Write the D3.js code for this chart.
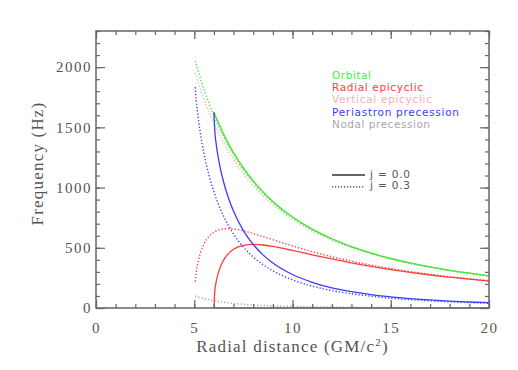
<!DOCTYPE html>
<html>
<head>
<meta charset="utf-8">
<script src="https://cdn.jsdelivr.net/npm/d3@7"></script>
<style>
  body { margin:0; background:#fff; }
  svg { display:block; }
  .axis text { font-family:"Liberation Serif", serif; font-size:15px; fill:#555; letter-spacing:1.5px; }
  .axis line { stroke:#666; stroke-width:1.2; }
  .axis .domain { display:none; }
</style>
</head>
<body>
<div id="chart"></div>
<script>
// radial distances (GM/c^2) for the two spins
const rJ0 = [6, 6.05, 6.1, 6.2, 6.35, 6.5, 6.75, 7, 7.5, 8, 8.5, 9, 10, 11, 12, 13, 14, 15, 16, 17, 18, 19, 20];
const rJ3 = [5.05, 5.1, 5.2, 5.35, 5.5, 5.75, 6, 6.5, 6.75, 7, 7.5, 8, 9, 10, 11, 12, 13, 14, 15, 16, 17, 18, 19, 20];

// j = 0.0 (Hz)
const orbitalJ0  = [1626, 1606, 1586, 1548, 1494, 1442, 1363, 1291, 1164, 1056, 964, 885, 756, 655, 575, 510, 456, 411, 373, 341, 313, 289, 267];
const radialJ0   = [0, 146, 203, 278, 351, 400, 454, 488, 520, 528, 523, 511, 478, 442, 407, 374, 345, 319, 295, 274, 256, 239, 224];
const verticalJ0 = [1626, 1606, 1586, 1548, 1494, 1442, 1363, 1291, 1164, 1056, 964, 885, 756, 655, 575, 510, 456, 411, 373, 341, 313, 289, 267];
const periJ0     = [1626, 1460, 1383, 1270, 1143, 1042, 909, 803, 643, 528, 441, 374, 278, 213, 168, 136, 111, 93, 78, 67, 57, 50, 44];
const nodalJ0    = [0, 0, 0, 0, 0, 0, 0, 0, 0, 0, 0, 0, 0, 0, 0, 0, 0, 0, 0, 0, 0, 0, 0];

// j = 0.3 (Hz)
const orbitalJ3  = [2052, 2022, 1966, 1886, 1811, 1697, 1594, 1417, 1340, 1270, 1147, 1042, 876, 749, 650, 571, 507, 454, 409, 372, 340, 312, 288, 266];
const radialJ3   = [218, 297, 386, 474, 532, 594, 629, 657, 659, 656, 641, 618, 567, 515, 468, 426, 389, 356, 328, 302, 280, 260, 243, 227];
const verticalJ3 = [1952, 1925, 1874, 1801, 1733, 1628, 1534, 1369, 1297, 1232, 1116, 1017, 857, 735, 640, 563, 501, 449, 405, 368, 337, 309, 286, 265];
const periJ3     = [1834, 1725, 1580, 1412, 1279, 1103, 965, 760, 681, 614, 506, 424, 309, 234, 182, 145, 118, 98, 81, 70, 60, 52, 45, 39];
const nodalJ3    = [100, 97, 92, 85, 78, 69, 60, 48, 43, 38, 31, 25, 18, 14, 10, 8, 6, 5, 4, 3, 3, 2, 2, 1];

const legendNames = ["Orbital", "Radial epicyclic", "Vertical epicyclic", "Periastron precession", "Nodal precession"];
const legendColors = ["#3cf03c", "#ff3c3c", "#ffaeae", "#3c3cff", "#a8a8a8"];
const spinLabels = ["j = 0.0", "j = 0.3"];
const xTicks = [0, 5, 10, 15, 20];
const yTicks = [0, 500, 1000, 1500, 2000];

let width = 518, height = 370,
    margin = { top:31, right:29, bottom:62, left:96 },
    innerWidth = width - margin.left - margin.right,
    innerHeight = height - margin.top - margin.bottom;

let xScale = d3.scaleLinear().domain([0, 20]).range([0, innerWidth]);
let yScale = d3.scaleLinear().domain([0, 2300]).range([innerHeight, 0]);

let svg = d3.select("#chart").append("svg").attr("width", width).attr("height", height);
let g = svg.append("g").attr("transform", `translate(${margin.left},${margin.top})`);

let line = d3.line()
    .x(d => xScale(d[0]))
    .y(d => yScale(d[1]))
    .curve(d3.curveMonotoneX);

let zip = (rs, vs) => rs.map((r, i) => [r, vs[i]]);

// draw order: vertical, nodal, orbital, radial, periastron
let series = [
  { r:rJ0, v:verticalJ0, c:2, dot:false },
  { r:rJ0, v:nodalJ0,    c:4, dot:false },
  { r:rJ3, v:verticalJ3, c:2, dot:true },
  { r:rJ3, v:nodalJ3,    c:4, dot:true },
  { r:rJ3, v:orbitalJ3,  c:0, dot:true },
  { r:rJ3, v:radialJ3,   c:1, dot:true },
  { r:rJ3, v:periJ3,     c:3, dot:true },
  { r:rJ0, v:orbitalJ0,  c:0, dot:false },
  { r:rJ0, v:radialJ0,   c:1, dot:false },
  { r:rJ0, v:periJ0,     c:3, dot:false }
];

g.selectAll("path.curve").data(series).enter().append("path")
  .attr("class", "curve")
  .attr("d", d => line(zip(d.r, d.v)))
  .attr("fill", "none")
  .attr("stroke", d => legendColors[d.c])
  .attr("stroke-width", d => d.dot ? 1.4 : 1.3)
  .attr("stroke-dasharray", d => d.dot ? "1.3 2" : null);

// axes: ticks point inward on all four sides
let xMinor = d3.range(0, 21, 1), yMinor = d3.range(0, 2301, 100);
let noText = sel => sel.selectAll("text").remove();

g.append("g").attr("class", "axis").attr("transform", `translate(0,${innerHeight})`)
  .call(d3.axisBottom(xScale).tickValues(xMinor).tickSize(-4)).call(noText);
g.append("g").attr("class", "axis").attr("transform", `translate(0,${innerHeight})`)
  .call(d3.axisBottom(xScale).tickValues(xTicks).tickSize(-8).tickPadding(14).tickFormat(d3.format("d")));
g.append("g").attr("class", "axis")
  .call(d3.axisTop(xScale).tickValues(xMinor).tickSize(-4)).call(noText);
g.append("g").attr("class", "axis")
  .call(d3.axisTop(xScale).tickValues(xTicks).tickSize(-8)).call(noText);

g.append("g").attr("class", "axis")
  .call(d3.axisLeft(yScale).tickValues(yMinor).tickSize(-4)).call(noText);
g.append("g").attr("class", "axis")
  .call(d3.axisLeft(yScale).tickValues(yTicks).tickSize(-9).tickPadding(4).tickFormat(d3.format("d")));
g.append("g").attr("class", "axis").attr("transform", `translate(${innerWidth},0)`)
  .call(d3.axisRight(yScale).tickValues(yMinor).tickSize(-4)).call(noText);
g.append("g").attr("class", "axis").attr("transform", `translate(${innerWidth},0)`)
  .call(d3.axisRight(yScale).tickValues(yTicks).tickSize(-9)).call(noText);

g.append("rect").attr("width", innerWidth).attr("height", innerHeight)
  .attr("fill", "none").attr("stroke", "#666").attr("stroke-width", 1.5);

// axis titles
g.append("text").attr("x", innerWidth/2).attr("y", innerHeight + 44)
  .attr("text-anchor", "middle").attr("font-family", "Liberation Serif, serif")
  .attr("font-size", 17).attr("fill", "#555").attr("letter-spacing", 1.2)
  .html("Radial distance (GM/c<tspan dy='-6' font-size='11'>2</tspan><tspan dy='6'>)</tspan>");
g.append("text").attr("transform", `translate(${-59},${innerHeight/2 - 6}) rotate(-90)`)
  .attr("text-anchor", "middle").attr("dy", "0.35em").attr("font-family", "Liberation Serif, serif")
  .attr("font-size", 17).attr("fill", "#555").attr("letter-spacing", 1.2)
  .text("Frequency (Hz)");

// legend
let legendWidths = [39, 91, 100, 127, 98];
g.selectAll("text.leg").data(legendNames).enter().append("text")
  .attr("class", "leg")
  .attr("x", 236).attr("y", (d, i) => 48 + i * 12.2)
  .attr("font-family", "DejaVu Sans, sans-serif").attr("font-size", 10.5)
  .attr("fill", (d, i) => legendColors[i])
  .attr("textLength", (d, i) => legendWidths[i]).attr("lengthAdjust", "spacing")
  .text(d => d);

spinLabels.forEach((s, i) => {
  let y = 144 + i * 11.8;
  g.append("line").attr("x1", 236).attr("x2", 269).attr("y1", y).attr("y2", y)
    .attr("stroke", "#333").attr("stroke-width", 1.3)
    .attr("stroke-dasharray", i ? "1.2 1.8" : null);
  g.append("text").attr("x", 274).attr("y", y + 2.5)
    .attr("font-family", "DejaVu Sans, sans-serif").attr("font-size", 10.5).attr("fill", "#555")
    .attr("textLength", 40).attr("lengthAdjust", "spacing")
    .text(s);
});
</script>
</body>
</html>
